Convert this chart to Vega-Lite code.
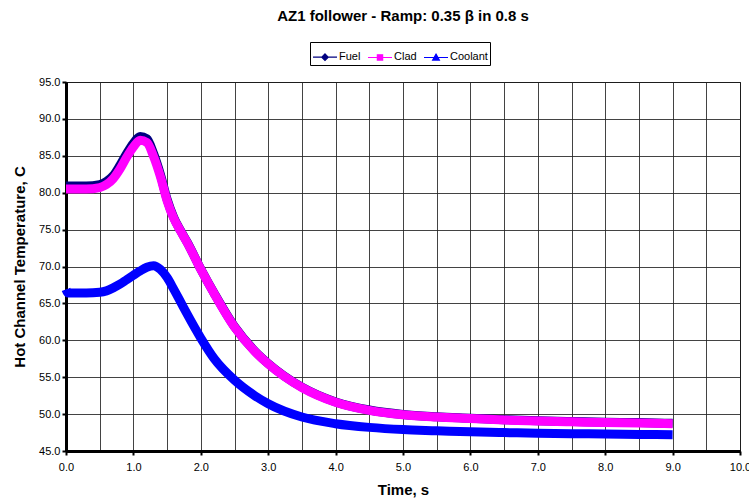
{
  "$schema": "https://vega.github.io/schema/vega-lite/v6.json",
  "autosize": {"type": "none"},
  "width": 674,
  "height": 369,
  "padding": {"left": 66, "top": 82, "right": 9, "bottom": 48},
  "background": "white",
  "config": {
    "font": "Liberation Sans",
    "view": {"stroke": "#000", "strokeWidth": 1}
  },
  "title": {
    "text": "AZ1 follower - Ramp: 0.35 β in 0.8 s",
    "fontSize": 15,
    "fontWeight": "bold",
    "font": "Liberation Sans",
    "color": "#000",
    "anchor": "middle",
    "offset": 18
  },
  "datasets": {
    "temps": [
      {"t": 0, "series": "Fuel", "temp": 80.9},
      {"t": 0.3, "series": "Fuel", "temp": 80.9},
      {"t": 0.5, "series": "Fuel", "temp": 81.1},
      {"t": 0.6, "series": "Fuel", "temp": 81.5},
      {"t": 0.7, "series": "Fuel", "temp": 82.3},
      {"t": 0.8, "series": "Fuel", "temp": 83.7},
      {"t": 0.9, "series": "Fuel", "temp": 85.3},
      {"t": 1.0, "series": "Fuel", "temp": 86.7},
      {"t": 1.1, "series": "Fuel", "temp": 87.6},
      {"t": 1.2, "series": "Fuel", "temp": 87.3},
      {"t": 1.3, "series": "Fuel", "temp": 85.3},
      {"t": 1.4, "series": "Fuel", "temp": 82.5},
      {"t": 1.5, "series": "Fuel", "temp": 79.1},
      {"t": 1.6, "series": "Fuel", "temp": 76.6},
      {"t": 1.7, "series": "Fuel", "temp": 74.85},
      {"t": 1.8, "series": "Fuel", "temp": 73.25},
      {"t": 2.0, "series": "Fuel", "temp": 69.65},
      {"t": 2.2, "series": "Fuel", "temp": 66.35},
      {"t": 2.5, "series": "Fuel", "temp": 61.85},
      {"t": 2.8, "series": "Fuel", "temp": 58.55},
      {"t": 3.0, "series": "Fuel", "temp": 56.85},
      {"t": 3.5, "series": "Fuel", "temp": 53.65},
      {"t": 4.0, "series": "Fuel", "temp": 51.65},
      {"t": 4.5, "series": "Fuel", "temp": 50.55},
      {"t": 5.0, "series": "Fuel", "temp": 49.95},
      {"t": 5.5, "series": "Fuel", "temp": 49.65},
      {"t": 6.0, "series": "Fuel", "temp": 49.45},
      {"t": 6.5, "series": "Fuel", "temp": 49.25},
      {"t": 7.0, "series": "Fuel", "temp": 49.1},
      {"t": 7.5, "series": "Fuel", "temp": 49.0},
      {"t": 8.0, "series": "Fuel", "temp": 48.9},
      {"t": 8.5, "series": "Fuel", "temp": 48.85},
      {"t": 9.0, "series": "Fuel", "temp": 48.75},
      {"t": 0, "series": "Clad", "temp": 80.5},
      {"t": 0.3, "series": "Clad", "temp": 80.5},
      {"t": 0.5, "series": "Clad", "temp": 80.7},
      {"t": 0.6, "series": "Clad", "temp": 81.1},
      {"t": 0.7, "series": "Clad", "temp": 81.9},
      {"t": 0.8, "series": "Clad", "temp": 83.2},
      {"t": 0.9, "series": "Clad", "temp": 84.8},
      {"t": 1.0, "series": "Clad", "temp": 86.2},
      {"t": 1.1, "series": "Clad", "temp": 87.1},
      {"t": 1.2, "series": "Clad", "temp": 86.8},
      {"t": 1.3, "series": "Clad", "temp": 84.9},
      {"t": 1.4, "series": "Clad", "temp": 82.2},
      {"t": 1.5, "series": "Clad", "temp": 78.9},
      {"t": 1.6, "series": "Clad", "temp": 76.5},
      {"t": 1.7, "series": "Clad", "temp": 74.8},
      {"t": 1.8, "series": "Clad", "temp": 73.2},
      {"t": 2.0, "series": "Clad", "temp": 69.6},
      {"t": 2.2, "series": "Clad", "temp": 66.3},
      {"t": 2.5, "series": "Clad", "temp": 61.8},
      {"t": 2.8, "series": "Clad", "temp": 58.5},
      {"t": 3.0, "series": "Clad", "temp": 56.8},
      {"t": 3.5, "series": "Clad", "temp": 53.6},
      {"t": 4.0, "series": "Clad", "temp": 51.6},
      {"t": 4.5, "series": "Clad", "temp": 50.5},
      {"t": 5.0, "series": "Clad", "temp": 49.9},
      {"t": 5.5, "series": "Clad", "temp": 49.6},
      {"t": 6.0, "series": "Clad", "temp": 49.4},
      {"t": 6.5, "series": "Clad", "temp": 49.2},
      {"t": 7.0, "series": "Clad", "temp": 49.05},
      {"t": 7.5, "series": "Clad", "temp": 48.95},
      {"t": 8.0, "series": "Clad", "temp": 48.85},
      {"t": 8.5, "series": "Clad", "temp": 48.8},
      {"t": 9.0, "series": "Clad", "temp": 48.7},
      {"t": 0, "series": "Coolant", "temp": 66.9},
      {"t": 0.03, "series": "Coolant", "temp": 66.4},
      {"t": 0.3, "series": "Coolant", "temp": 66.4},
      {"t": 0.5, "series": "Coolant", "temp": 66.5},
      {"t": 0.6, "series": "Coolant", "temp": 66.7},
      {"t": 0.7, "series": "Coolant", "temp": 67.1},
      {"t": 0.8, "series": "Coolant", "temp": 67.6},
      {"t": 0.9, "series": "Coolant", "temp": 68.2},
      {"t": 1.0, "series": "Coolant", "temp": 68.8},
      {"t": 1.1, "series": "Coolant", "temp": 69.4},
      {"t": 1.2, "series": "Coolant", "temp": 69.9},
      {"t": 1.3, "series": "Coolant", "temp": 70.1},
      {"t": 1.4, "series": "Coolant", "temp": 69.6},
      {"t": 1.5, "series": "Coolant", "temp": 68.5},
      {"t": 1.6, "series": "Coolant", "temp": 66.9},
      {"t": 1.7, "series": "Coolant", "temp": 65.2},
      {"t": 1.8, "series": "Coolant", "temp": 63.5},
      {"t": 2.0, "series": "Coolant", "temp": 60.3},
      {"t": 2.2, "series": "Coolant", "temp": 57.5},
      {"t": 2.5, "series": "Coolant", "temp": 54.6},
      {"t": 2.8, "series": "Coolant", "temp": 52.5},
      {"t": 3.0, "series": "Coolant", "temp": 51.4},
      {"t": 3.5, "series": "Coolant", "temp": 49.6},
      {"t": 4.0, "series": "Coolant", "temp": 48.7},
      {"t": 4.5, "series": "Coolant", "temp": 48.2},
      {"t": 5.0, "series": "Coolant", "temp": 47.9},
      {"t": 5.5, "series": "Coolant", "temp": 47.75},
      {"t": 6.0, "series": "Coolant", "temp": 47.6},
      {"t": 6.5, "series": "Coolant", "temp": 47.5},
      {"t": 7.0, "series": "Coolant", "temp": 47.4},
      {"t": 7.5, "series": "Coolant", "temp": 47.35},
      {"t": 8.0, "series": "Coolant", "temp": 47.3},
      {"t": 8.5, "series": "Coolant", "temp": 47.25},
      {"t": 9.0, "series": "Coolant", "temp": 47.2}
    ]
  },
  "data": {"name": "temps"},
  "encoding": {
    "x": {
      "field": "t",
      "type": "quantitative",
      "scale": {"domain": [0, 10], "nice": false, "zero": false},
      "axis": {
        "title": "Time, s",
        "titleFontSize": 15,
        "titleFontWeight": "bold",
        "titleColor": "#000",
        "titlePadding": 10,
        "values": [0, 0.5, 1, 1.5, 2, 2.5, 3, 3.5, 4, 4.5, 5, 5.5, 6, 6.5, 7, 7.5, 8, 8.5, 9, 9.5, 10],
        "labelExpr": "datum.value % 1 === 0 ? format(datum.value, '.1f') : ''",
        "labelFontSize": 11,
        "labelColor": "#000",
        "labelPadding": 6,
        "tickSize": 4,
        "tickColor": "#000",
        "tickWidth": 2,
        "tickOpacity": {"expr": "datum.value % 1 === 0 ? 1 : 0"},
        "domainColor": "#000",
        "domainWidth": 3,
        "grid": true,
        "gridColor": "#222",
        "gridWidth": 1,
        "gridOpacity": 0.85,
        "labelFlush": false
      }
    },
    "y": {
      "field": "temp",
      "type": "quantitative",
      "scale": {"domain": [45, 95], "nice": false, "zero": false},
      "axis": {
        "title": "Hot Channel Temperature, C",
        "titleFontSize": 15,
        "titleFontWeight": "bold",
        "titleColor": "#000",
        "titlePadding": 11,
        "values": [45, 50, 55, 60, 65, 70, 75, 80, 85, 90, 95],
        "format": ".1f",
        "labelFontSize": 11,
        "labelColor": "#000",
        "labelPadding": 2,
        "tickSize": 4,
        "tickColor": "#000",
        "tickWidth": 2,
        "domainColor": "#000",
        "domainWidth": 3,
        "grid": true,
        "gridColor": "#222",
        "gridWidth": 1,
        "gridOpacity": 0.85,
        "labelFlush": false
      }
    },
    "color": {
      "field": "series",
      "type": "nominal",
      "scale": {"domain": ["Fuel", "Clad", "Coolant"], "range": ["#000080", "#FF00FF", "#0000FF"]}
    }
  },
  "layer": [
    {
      "transform": [{"filter": "datum.series === 'Fuel'"}],
      "mark": {"type": "line", "strokeWidth": 9, "interpolate": "monotone", "strokeCap": "butt", "strokeJoin": "round"},
      "encoding": {
        "color": {
          "field": "series",
          "type": "nominal",
          "scale": {"domain": ["Fuel", "Clad", "Coolant"], "range": ["#000080", "#FF00FF", "#0000FF"]},
          "legend": {
            "orient": "none",
            "legendX": 244,
            "legendY": -40,
            "direction": "horizontal",
            "title": null,
            "strokeColor": "#000",
            "padding": 2,
            "fillColor": "white",
            "labelFontSize": 11,
            "labelColor": "#000",
            "labelFont": "Liberation Sans",
            "labelOffset": 1,
            "columnPadding": 4,
            "symbolSize": 576,
            "symbolType": "M-1,0H1",
            "symbolStrokeWidth": 1.2,
            "encode": {
              "symbols": {
                "update": {
                  "shape": {"signal": "datum.value === 'Fuel' ? 'M-1,0H1M0,-0.27L0.27,0L0,0.27L-0.27,0Z' : datum.value === 'Clad' ? 'M-1,0H1M-0.22,-0.22H0.22V0.22H-0.22Z' : 'M-1,0H1M0,-0.28L0.28,0.22H-0.28Z'"},
                  "fill": {"scale": "color", "field": "value"},
                  "stroke": {"scale": "color", "field": "value"},
                  "strokeWidth": {"value": 1.2},
                  "opacity": {"value": 1}
                }
              }
            }
          }
        }
      }
    },
    {
      "transform": [{"filter": "datum.series === 'Clad'"}],
      "mark": {"type": "line", "strokeWidth": 9, "interpolate": "monotone", "strokeCap": "butt", "strokeJoin": "round"}
    },
    {
      "transform": [{"filter": "datum.series === 'Coolant'"}],
      "mark": {"type": "line", "strokeWidth": 9, "interpolate": "monotone", "strokeCap": "butt", "strokeJoin": "round"}
    }
  ]
}
